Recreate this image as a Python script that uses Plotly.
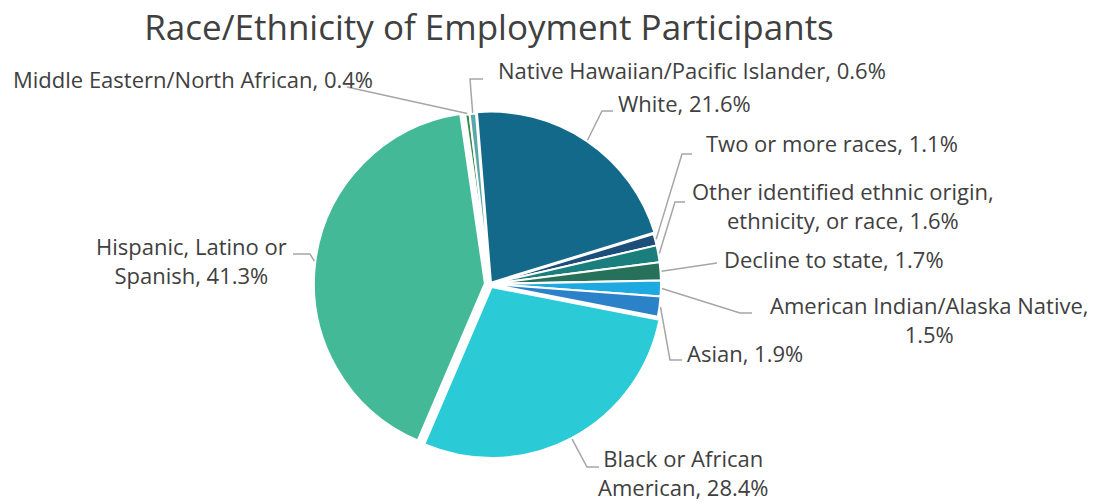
"""Pie chart: race/ethnicity of employment participants."""
import math

import plotly.graph_objects as go

W, H = 1102, 502

categories = [
    "White",
    "Two or more races",
    "Other identified ethnic origin, ethnicity, or race",
    "Decline to state",
    "American Indian/Alaska Native",
    "Asian",
    "Black or African American",
    "Hispanic, Latino or Spanish",
    "Middle Eastern/North African",
    "Native Hawaiian/Pacific Islander",
]
percents = [21.6, 1.1, 1.6, 1.7, 1.5, 1.9, 28.4, 41.3, 0.4, 0.6]
label_text = [
    "White, {v}%",
    "Two or more races, {v}%",
    "Other identified ethnic origin,<br>ethnicity, or race, {v}%",
    "Decline to state, {v}%",
    "American Indian/Alaska Native,<br>{v}%",
    "Asian, {v}%",
    "Black or African<br>American, {v}%",
    "Hispanic, Latino or<br>Spanish, {v}%",
    "Middle Eastern/North African, {v}%",
    "Native Hawaiian/Pacific Islander, {v}%",
]

COLORS = ["#13698A", "#1B4F7A", "#1A7F7C", "#27715B", "#1EAAE0",
          "#2B82C8", "#2ACBD7", "#44B997", "#3A8C4C", "#5AA6A8"]
PULLS = [0.01, 0, 0, 0, 0, 0, 0.02, 0.03, 0, 0]

INK = "#404040"
LEADER = "#A6A6A6"
FONT = "Open Sans, Arial"
LABEL_SIZE = 22

# pie geometry in pixels
CX, CY, R = 490, 284, 171
ROT = -4.7

# label placement: (elbow, end, text x, xanchor, text centre y)
PLACE = [
    ((602, 111), (613, 111), 617, "left", 103),
    ((682, 154), (692, 154), 705, "left", 143),
    ((675, 202), (685, 202), 843, "center", 205),
    ((717, 263), (717, 263), 723, "left", 259),
    ((740, 313), (752, 313), 929, "center", 319),
    ((670, 360), (682, 360), 686, "left", 353),
    ((587, 467), (599, 467), 683, "center", 472),
    ((310, 254), (293, 254), 191, "center", 260),
    ((347, 87), (347, 87), 12, "left", 79),
    ((470, 79), (483, 79), 497, "left", 70),
]


def px(x, y):
    return x / W, 1 - y / H


half = R * (1 + max(PULLS))
fig = go.Figure(
    go.Pie(
        labels=categories, values=percents, sort=False,
        direction="clockwise", rotation=ROT, pull=PULLS,
        marker=dict(colors=COLORS, line=dict(color="white", width=2)),
        textinfo="none", hoverinfo="label+percent",
        domain=dict(x=[(CX - half) / W, (CX + half) / W],
                    y=[1 - (CY + half) / H, 1 - (CY - half) / H]),
        showlegend=False,
    )
)

total = sum(percents)
cum = 0.0
shapes, annotations = [], []
for i, v in enumerate(percents):
    mid = math.radians(ROT + 360 * (cum + v / 2) / total)
    cum += v
    rr = R * (1 + PULLS[i]) + 1
    sx, sy = CX + rr * math.sin(mid), CY - rr * math.cos(mid)
    (ex, ey), (tx, ty), lx, anchor, ly = PLACE[i]
    pts = [px(sx, sy), px(ex, ey), px(tx, ty)]
    path = "M {} {} L {} {} L {} {}".format(*[c for p in pts for c in p])
    shapes.append(dict(type="path", path=path, xref="paper", yref="paper",
                       line=dict(color=LEADER, width=1.5)))
    x, y = px(lx, ly)
    annotations.append(dict(
        text=label_text[i].format(v=v), x=x, y=y, xref="paper", yref="paper",
        xanchor=anchor, yanchor="middle", align="center", showarrow=False,
        borderpad=0, font=dict(size=LABEL_SIZE, color=INK, family=FONT),
    ))

fig.update_layout(
    width=W, height=H,
    margin=dict(l=0, r=0, t=0, b=0),
    paper_bgcolor="white", plot_bgcolor="white",
    title=dict(text="Race/Ethnicity of Employment Participants",
               x=489 / W, xanchor="center", y=1 - 28 / H, yanchor="middle",
               font=dict(size=35, color=INK, family=FONT)),
    shapes=shapes, annotations=annotations,
)
# drop the page's default body margin so the figure sits at the top-left
fig.write_html("out.html", config={"displayModeBar": False},
               post_script="document.body.style.margin = '0';")
